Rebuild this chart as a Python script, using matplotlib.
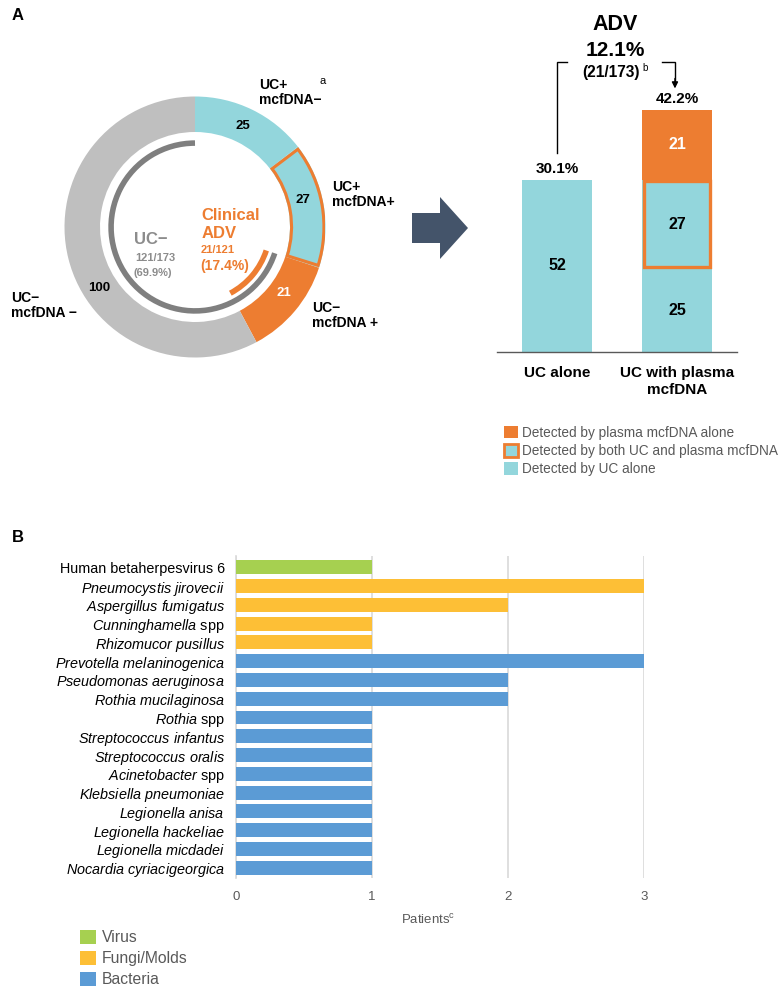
import matplotlib
matplotlib.use('Agg')
import matplotlib.pyplot as plt
from matplotlib.patches import Wedge, Arc, Polygon, Patch
import numpy as np

plt.rcParams['font.family'] = ['Liberation Sans', 'DejaVu Sans']
plt.rcParams['mathtext.fontset'] = 'custom'
plt.rcParams['mathtext.rm'] = 'Liberation Sans'
plt.rcParams['mathtext.it'] = 'Liberation Sans:italic'
plt.rcParams['mathtext.bf'] = 'Liberation Sans:bold'

# ---------------- data ----------------
donut_labels = [('UC+', 'mcfDNA−'), ('UC+', 'mcfDNA+'), ('UC−', 'mcfDNA +'), ('UC−', 'mcfDNA −')]
donut_values = [25, 27, 21, 100]
total_n = sum(donut_values)          # 173
uc_neg_n = donut_values[2] + donut_values[3]   # 121
adv_n = donut_values[2]              # 21

bar_categories = ['UC alone', 'UC with plasma\nmcfDNA']
uc_only_vals = [52, 25]
both_vals = [0, 27]
mcf_only_vals = [0, 21]

species = ['Human betaherpesvirus 6', 'Pneumocystis jirovecii', 'Aspergillus fumigatus',
           'Cunninghamella spp', 'Rhizomucor pusillus', 'Prevotella melaninogenica',
           'Pseudomonas aeruginosa', 'Rothia mucilaginosa', 'Rothia spp',
           'Streptococcus infantus', 'Streptococcus oralis', 'Acinetobacter spp',
           'Klebsiella pneumoniae', 'Legionella anisa', 'Legionella hackeliae',
           'Legionella micdadei', 'Nocardia cyriacigeorgica']
patients = [1, 3, 2, 1, 1, 3, 2, 2, 1, 1, 1, 1, 1, 1, 1, 1, 1]
groups = ['Virus', 'Fungi/Molds', 'Fungi/Molds', 'Fungi/Molds', 'Fungi/Molds'] + ['Bacteria'] * 12
group_order = ['Virus', 'Fungi/Molds', 'Bacteria']

# ---------------- style ----------------
TEAL = '#93d6dc'
ORANGE = '#ed7d31'
LGRAY = '#bfbfbf'
DGRAY = '#7f7f7f'
TGRAY = '#8c8c8c'
NAVY = '#44546a'
GROUP_COLORS = {'Virus': '#a6d050', 'Fungi/Molds': '#fdbf36', 'Bacteria': '#5b9bd5'}

W, H = 780, 990
fig = plt.figure(figsize=(W / 100, H / 100), dpi=100)
fig.patch.set_facecolor('white')


def px_axes(l, t, r, b, **kw):
    return fig.add_axes([l / W, 1 - b / H, (r - l) / W, (b - t) / H], **kw)


# ---------------- donut ----------------
axd = px_axes(64.5, 96.5, 325.5, 357.5)
ring_w = 0.272
axd.pie(donut_values, radius=1, startangle=90, counterclock=False,
        colors=[TEAL, TEAL, ORANGE, LGRAY],
        wedgeprops=dict(width=ring_w, edgecolor='none', linewidth=0))
cum = np.cumsum([0] + donut_values)
angles = 90 - cum / total_n * 360
# outline for UC+ mcfDNA+ segment
axd.add_patch(Wedge((0, 0), 1 - 0.012, angles[2] + 0.9, angles[1] - 0.9,
                    width=ring_w - 0.024, fill=False, edgecolor=ORANGE, lw=2.2))
# inner arcs
uc_neg_span = uc_neg_n / total_n * 360
axd.add_patch(Arc((0, 0), 2 * 0.643, 2 * 0.643, theta1=90, theta2=90 + uc_neg_span,
                  color=DGRAY, lw=4.0))
axd.add_patch(Arc((0, 0), 2 * 0.575, 2 * 0.575, theta1=angles[3], theta2=angles[2],
                  color=ORANGE, lw=4.0))
axd.set_xlim(-1, 1)
axd.set_ylim(-1, 1)
axd.set_aspect('equal')
axd.axis('off')

# ---------------- overlay (pixel coords) ----------------
ov = fig.add_axes([0, 0, 1, 1], zorder=5)
ov.set_xlim(0, W)
ov.set_ylim(H, 0)
ov.axis('off')

ov.text(12, 16, 'A', fontsize=12, fontweight='bold', va='center', ha='left')
ov.text(12, 537, 'B', fontsize=12, fontweight='bold', va='center', ha='left')

lab_kw = dict(fontsize=10, fontweight='bold', ha='left', va='center')
label_pos = [(259, 85), (332, 187), (312, 308), (11, 298)]
for (l1, l2), (lx, ly) in zip(donut_labels, label_pos):
    ov.text(lx, ly, l1, **lab_kw)
    ov.text(lx, ly + 15, l2, **lab_kw)
ov.text(319, 81, 'a', fontsize=8, ha='left', va='center')

num_kw = dict(fontsize=9.5, fontweight='bold', ha='center', va='center')
ov.text(243, 126, str(donut_values[0]), **num_kw)
ov.text(303, 200, str(donut_values[1]), **num_kw)
ov.text(284, 293, str(donut_values[2]), color='white', **num_kw)
ov.text(99, 288, str(donut_values[3]), **num_kw)

ov.text(134, 240, 'UC−', fontsize=12, fontweight='bold', color=TGRAY, ha='left', va='center')
ov.text(135, 258, f'{uc_neg_n}/{total_n}', fontsize=8, fontweight='bold', color=TGRAY,
        ha='left', va='center')
ov.text(134, 273, f'({uc_neg_n / total_n * 100:.1f}%)', fontsize=8, fontweight='bold',
        color=TGRAY, ha='left', va='center')

ov.text(201, 216, 'Clinical', fontsize=12, fontweight='bold', color=ORANGE, ha='left', va='center')
ov.text(202, 233, 'ADV', fontsize=12, fontweight='bold', color=ORANGE, ha='left', va='center')
ov.text(201, 250, f'{adv_n}/{uc_neg_n}', fontsize=8, fontweight='bold', color=ORANGE,
        ha='left', va='center')
ov.text(200, 266, f'({adv_n / uc_neg_n * 100:.1f}%)', fontsize=10, fontweight='bold',
        color=ORANGE, ha='left', va='center')

# big arrow
ov.add_patch(Polygon([(412, 213), (440, 213), (440, 197), (468, 228), (440, 259),
                      (440, 243), (412, 243)], closed=True, facecolor=NAVY, edgecolor='none'))

# ADV heading
ov.text(615, 25, 'ADV', fontsize=15.5, fontweight='bold', ha='center', va='center')
ov.text(615, 50, f'{adv_n / total_n * 100:.1f}%', fontsize=15, fontweight='bold',
        ha='center', va='center')
ov.text(611, 72, f'({adv_n}/{total_n})', fontsize=11.2, fontweight='bold', ha='center', va='center')
ov.text(642, 68, 'b', fontsize=7, ha='left', va='center')

# ---------------- stacked bars ----------------
axb = px_axes(497, 60, 737, 352)
x = np.arange(len(bar_categories))
bw = 0.583
tops = [a + b + c for a, b, c in zip(uc_only_vals, both_vals, mcf_only_vals)]
ymax = max(tops) * 292 / 242
axb.bar(x, uc_only_vals, width=bw, color=TEAL, edgecolor='none')
axb.bar(x, both_vals, bottom=uc_only_vals, width=bw, color=TEAL, edgecolor='none')
bottom2 = [a + b for a, b in zip(uc_only_vals, both_vals)]
axb.bar(x, mcf_only_vals, bottom=bottom2, width=bw, color=ORANGE, edgecolor='none')
# outline of "both" segment
for xi, b0, h in zip(x, uc_only_vals, both_vals):
    if h > 0:
        axb.bar(xi, h - 1.0, bottom=b0 + 0.5, width=bw - 0.03, color='none',
                edgecolor=ORANGE, lw=2.4)
# segment labels
seg_kw = dict(ha='center', va='center', fontsize=11.5, fontweight='bold')
for xi, u, b, m in zip(x, uc_only_vals, both_vals, mcf_only_vals):
    if u:
        axb.text(xi, u / 2, str(u), **seg_kw)
    if b:
        axb.text(xi, u + b / 2, str(b), **seg_kw)
    if m:
        axb.text(xi, u + b + m / 2, str(m), color='white', **seg_kw)
for xi, t in zip(x, tops):
    axb.text(xi, t + 3.3, f'{t / total_n * 100:.1f}%', ha='center', va='center',
             fontsize=11, fontweight='bold')

# bracket
y_br = 87.5
axb.plot([0, 0, 0.085], [tops[0] + 8, y_br, y_br], color='black', lw=1, clip_on=False,
         solid_joinstyle='miter')
axb.plot([0.875, 0.983, 0.983], [y_br, y_br, tops[1] + 8.5], color='black', lw=1,
         clip_on=False, solid_joinstyle='miter')
axb.annotate('', xy=(0.983, tops[1] + 6.5), xytext=(0.983, tops[1] + 9.5),
             arrowprops=dict(arrowstyle='-|>', color='black', lw=1, mutation_scale=9,
                             shrinkA=0, shrinkB=0), annotation_clip=False)

axb.set_xlim(-0.5, 1.5)
axb.set_ylim(0, ymax)
axb.set_xticks(x)
axb.set_xticklabels(bar_categories, fontsize=11, fontweight='bold', linespacing=1.25)
axb.tick_params(axis='x', length=0, pad=10)
axb.set_yticks([])
for s in ['top', 'right', 'left']:
    axb.spines[s].set_visible(False)
axb.spines['bottom'].set_color('#595959')
axb.spines['bottom'].set_linewidth(1)
axb.patch.set_visible(False)

leg_a = [Patch(facecolor=ORANGE, edgecolor='none'),
         Patch(facecolor=TEAL, edgecolor=ORANGE, lw=2),
         Patch(facecolor=TEAL, edgecolor='none')]
fig.legend(leg_a, ['Detected by plasma mcfDNA alone',
                   'Detected by both UC and plasma mcfDNA',
                   'Detected by UC alone'],
           loc='upper left', bbox_to_anchor=(504 / W, 1 - 426 / H), bbox_transform=fig.transFigure,
           frameon=False, fontsize=9.8, handlelength=1.0, handleheight=1.0,
           handletextpad=0.35, labelspacing=0.3, borderpad=0, borderaxespad=0,
           labelcolor='#595959')

# ---------------- panel B ----------------
axh = px_axes(236, 556, 644, 878)


def fmt(name, grp):
    if grp == 'Virus':
        return name
    if name.endswith(' spp'):
        return r'$\mathit{' + name[:-4] + r'}$ spp'
    return r'$\mathit{' + name.replace(' ', r'\ ') + '}$'


yy = np.arange(len(species))
axh.barh(yy, patients, height=0.74, color=[GROUP_COLORS[g] for g in groups], zorder=3)
axh.set_xlim(0, 3)
axh.set_ylim(len(species) - 0.45, -0.6)
axh.set_yticks(yy)
axh.set_yticklabels([fmt(s, g) for s, g in zip(species, groups)], fontsize=10.4)
axh.set_xticks([0, 1, 2, 3])
axh.tick_params(axis='x', length=0, pad=9, labelsize=9.5, labelcolor='#595959')
axh.tick_params(axis='y', length=0, pad=8)
axh.grid(axis='x', color='#d9d9d9', lw=1.2, zorder=0)
axh.set_axisbelow(True)
for s in ['top', 'right', 'bottom']:
    axh.spines[s].set_visible(False)
axh.spines['left'].set_color('#d9d9d9')
axh.spines['left'].set_linewidth(1.2)
axh.set_xlabel(r'Patients$^{\mathrm{c}}$', fontsize=9.5, color='#595959')
axh.xaxis.set_label_coords((428 - 236) / (644 - 236), -(920 - 878) / (878 - 556))
axh.xaxis.label.set_va('center')

leg_b = [Patch(facecolor=GROUP_COLORS[g], edgecolor='none') for g in group_order]
fig.legend(leg_b, group_order, loc='upper left', bbox_to_anchor=(80 / W, 1 - 930 / H),
           bbox_transform=fig.transFigure, frameon=False, fontsize=11.3,
           handlelength=1.0, handleheight=1.0, handletextpad=0.4, labelspacing=0.35,
           borderpad=0, borderaxespad=0, labelcolor='#595959')

fig.savefig('out.png', dpi=100, facecolor='white')
